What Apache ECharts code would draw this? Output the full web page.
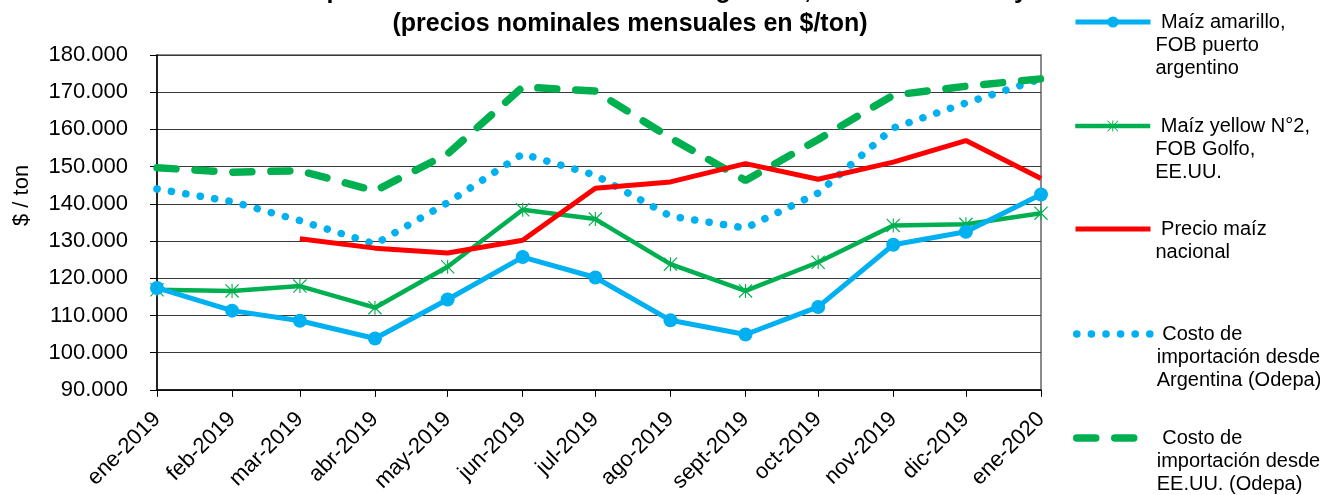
<!DOCTYPE html>
<html>
<head>
<meta charset="utf-8">
<script src="https://cdn.jsdelivr.net/npm/echarts@6/dist/echarts.min.js"></script>
<style>
	html, body { margin: 0; padding: 0; background: #fff; }
	#main { width: 1320px; height: 495px; }
</style>
</head>
<body>
<div id="main"></div>
<script>
// meses (primer dia de cada mes) y etiquetas del eje X
var meses = [
	[2019, 0], [2019, 1], [2019, 2], [2019, 3], [2019, 4], [2019, 5], [2019, 6],
	[2019, 7], [2019, 8], [2019, 9], [2019, 10], [2019, 11], [2020, 0]
];
var etiquetasMes = ['ene-2019', 'feb-2019', 'mar-2019', 'abr-2019', 'may-2019', 'jun-2019', 'jul-2019',
	'ago-2019', 'sept-2019', 'oct-2019', 'nov-2019', 'dic-2019', 'ene-2020'];

// precios en $/ton
var maizArgentino = [117400, 111300, 108600, 103800, 114300, 125700, 120200, 108700, 104900, 112300, 129000, 132500, 142500];
var maizGolfo = [116900, 116600, 117900, 112100, 123100, 138400, 135900, 123800, 116600, 124300, 134200, 134500, 137500];
var maizNacional = [null, null, 130600, 128100, 126800, 130200, 144200, 145900, 150800, 146600, 151200, 157000, 146800];
var costoArgentina = [144000, 140600, 135500, 129200, 140300, 153400, 147700, 136700, 133500, 142900, 160400, 167100, 173600];
var costoEEUU = [149700, 148500, 148900, 143500, 153400, 171400, 170300, 157700, 146300, 157300, 169200, 171600, 173600];

var nombres = [
	' Maíz amarillo,\nFOB puerto\nargentino',
	' Maíz yellow N°2,\nFOB Golfo,\nEE.UU.',
	' Precio maíz\nnacional',
	' Costo de\nimportación desde\nArgentina (Odepa)',
	' Costo de\nimportación desde\nEE.UU. (Odepa)'
];

// eje X en dias (el grafico original es un eje de fechas)
var dia = 86400000;
var fechas = meses.map(function (m) { return (Date.UTC(m[0], m[1], 1) - Date.UTC(2019, 0, 1)) / dia; });

function serie(valores) {
	var d = [];
	for (var i = 0; i < valores.length; i++) {
		if (valores[i] != null) d.push([fechas[i], valores[i]]);
	}
	return d;
}

var fuente = "'Liberation Sans', Arial, sans-serif";
var azul = '#00B0F0', verde = '#00B050', rojo = '#FF0000';

// asterisco (marcador de Excel)
var estrella = 'path://M9.2,0L10.8,0L10.8,20L9.2,20Z M0,1.2L1.2,0L20,18.8L18.8,20Z M18.8,0L20,1.2L1.2,20L0,18.8Z';

var chart = echarts.init(document.getElementById('main'));

// una leyenda por serie, el icono queda a la altura de la primera linea
var altoLinea = 23;
var centrosIcono = [22, 126, 229, 334, 438];
var conMarcador = [true, true, false, false, false];
var leyendas = nombres.map(function (n, i) {
	var lineas = n.split('\n').length;
	var total = (lineas * 2 - 1) * altoLinea;
	return {
		orient: 'vertical',
		left: 1073,
		top: centrosIcono[i] - total / 2,
		itemWidth: 75,
		itemHeight: 14,
		padding: 0,
		selectedMode: false,
		data: [n],
		lineStyle: { width: 'inherit' },
		itemStyle: conMarcador[i] ? {} : { opacity: 0 },
		formatter: function (name) {
			var pre = '';
			for (var k = 1; k < lineas; k++) pre += '\n';
			return pre + name;
		},
		textStyle: { fontFamily: fuente, fontSize: 20, lineHeight: altoLinea, color: '#000' }
	};
});

var option = {
	animation: false,
	backgroundColor: '#fff',
	title: {
		text: 'Precios de importación en los mercados de Argentina, Estados Unidos y Chile\n(precios nominales mensuales en $/ton)',
		left: 630,
		textAlign: 'center',
		top: -25,
		padding: 0,
		textStyle: { fontFamily: fuente, fontSize: 25, fontWeight: 'bold', lineHeight: 33, color: '#000' }
	},
	legend: leyendas,
	grid: {
		left: 157, right: 279, top: 55, bottom: 105,
		show: true, borderColor: '#8c8c8c', borderWidth: 2
	},
	xAxis: {
		type: 'value',
		min: fechas[0],
		max: fechas[fechas.length - 1],
		axisLine: { lineStyle: { color: '#000', width: 1.5 } },
		axisTick: { show: true, length: 7, customValues: fechas, lineStyle: { color: '#000' } },
		splitLine: { show: false },
		axisLabel: {
			customValues: fechas,
			rotate: 45,
			margin: 26,
			color: '#000',
			fontFamily: fuente,
			fontSize: 22,
			formatter: function (v) {
				var i = fechas.indexOf(v);
				return i >= 0 ? etiquetasMes[i] : '';
			}
		}
	},
	yAxis: {
		type: 'value',
		min: 90000,
		max: 180000,
		interval: 10000,
		name: '$ / ton',
		nameLocation: 'middle',
		nameGap: 124,
		nameTextStyle: { fontFamily: fuente, fontSize: 22, color: '#000', padding: [0, 0, 0, 54] },
		axisLine: { show: true, lineStyle: { color: '#000', width: 1.5 } },
		axisTick: { show: true, length: 7, lineStyle: { color: '#000' } },
		splitLine: { lineStyle: { color: '#3a3a3a', width: 1 } },
		axisLabel: {
			margin: 29,
			color: '#000',
			fontFamily: fuente,
			fontSize: 22,
			formatter: function (v) { return (v / 1000).toFixed(0) + '.000'; }
		}
	},
	series: [{
		name: nombres[0],
		type: 'line',
		data: serie(maizArgentino),
		symbol: 'circle',
		symbolSize: 14,
		z: 4,
		itemStyle: { color: azul },
		lineStyle: { color: azul, width: 5 }
	}, {
		name: nombres[1],
		type: 'line',
		data: serie(maizGolfo),
		symbol: estrella,
		symbolSize: 14,
		z: 3,
		itemStyle: { color: verde },
		lineStyle: { color: verde, width: 4.5 }
	}, {
		name: nombres[2],
		type: 'line',
		data: serie(maizNacional),
		symbol: 'none',
		z: 3,
		itemStyle: { color: rojo },
		lineStyle: { color: rojo, width: 5 }
	}, {
		name: nombres[3],
		type: 'line',
		data: serie(costoArgentina),
		symbol: 'none',
		z: 2,
		itemStyle: { color: azul },
		lineStyle: { color: azul, width: 7.5, type: [0.1, 14.5], cap: 'round' }
	}, {
		name: nombres[4],
		type: 'line',
		data: serie(costoEEUU),
		symbol: 'none',
		z: 2,
		itemStyle: { color: verde },
		lineStyle: { color: verde, width: 7.5, type: [19, 19], cap: 'round' }
	}]
};

chart.setOption(option);
</script>
</body>
</html>
